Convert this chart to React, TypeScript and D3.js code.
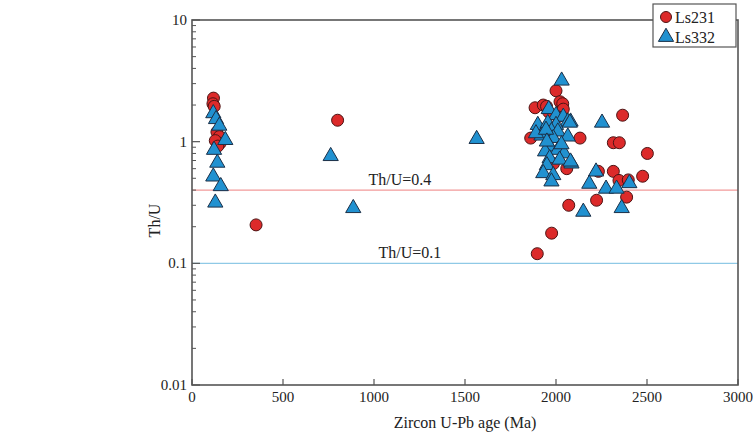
import React from 'react';
import * as d3 from 'd3';

// Ls231 zircons: [age Ma, Th/U]
const ls231: [number, number][] = [
  [118, 2.28], [115, 2.05], [122, 1.95], [137, 1.2], [150, 1.1], [154, 0.97], [128, 1.02], [142, 0.92],
  [352, 0.207], [800, 1.5],
  [1885, 1.9], [1930, 2.0], [1948, 1.95], [2000, 2.62], [2022, 2.13], [2037, 2.05], [2040, 1.85],
  [1960, 1.75], [1861, 1.07], [2132, 1.07], [2059, 0.6], [1986, 0.66], [1975, 1.3], [2010, 1.6], [1920, 1.25],
  [2366, 1.65], [2315, 0.98], [2348, 0.98], [2502, 0.8], [2315, 0.57], [2233, 0.57], [2346, 0.48],
  [2397, 0.485], [2476, 0.52], [2388, 0.35], [2223, 0.33], [2070, 0.3], [1976, 0.177], [1897, 0.12],
];

// Ls332 zircons: [age Ma, Th/U]
const ls332: [number, number][] = [
  [117, 1.71], [132, 1.53], [150, 1.35], [183, 1.03], [121, 0.855], [139, 0.67], [117, 0.516], [158, 0.43], [128, 0.315],
  [762, 0.76], [886, 0.284], [1564, 1.05],
  [2031, 3.17], [1960, 1.85], [2000, 1.65], [2040, 1.6], [2065, 1.46], [1900, 1.37], [1955, 1.42], [2000, 1.37],
  [1975, 1.22], [2010, 1.21], [2065, 1.1], [1920, 1.12], [1985, 1.07], [1965, 0.91], [2010, 0.855], [1940, 0.83],
  [2045, 0.8], [1965, 0.73], [2020, 0.71], [1950, 0.64], [2085, 0.66], [1930, 0.55], [1985, 0.53], [1975, 0.47],
  [1890, 1.17], [1945, 1.25], [2080, 1.46], [1950, 1.0], [2030, 0.95],
  [2253, 1.43], [2076, 1.43], [2080, 0.685], [2220, 0.567], [2183, 0.45], [2275, 0.41], [2333, 0.41],
  [2403, 0.455], [2150, 0.265], [2361, 0.284],
];

const xTicks = [0, 500, 1000, 1500, 2000, 2500, 3000];
const yTicks = [0.01, 0.1, 1, 10];
const yTickLabels = ['0.01', '0.1', '1', '10'];
const refLines = [
  { value: 0.4, label: 'Th/U=0.4', color: '#f29a9a', labelAge: 970 },
  { value: 0.1, label: 'Th/U=0.1', color: '#8fc9e6', labelAge: 1025 },
];

const W = 753;
const H = 434;
const margin = { top: 20, right: 15, bottom: 49, left: 192 };
const font = '"Liberation Serif", "Times New Roman", serif';

const App = () => {
  const x = d3.scaleLinear().domain([0, 3000]).range([margin.left, W - margin.right]);
  const y = d3.scaleLog().domain([0.01, 10]).range([H - margin.bottom, margin.top]);

  // minor ticks 2..9 in every decade
  const minor: number[] = [];
  for (let d = 0.01; d < 10; d *= 10) {
    for (let k = 2; k <= 9; k++) minor.push(+(d * k).toPrecision(3));
  }

  const tri = d3.symbol().type(d3.symbolTriangle).size(100)();

  const x0 = margin.left;
  const x1 = W - margin.right;
  const y0 = H - margin.bottom;
  const y1 = margin.top;

  return (
    <svg width={W} height={H} style={{ position: 'absolute', left: 0, top: 0, background: '#fff' }} fontFamily={font}>
      {/* reference lines */}
      {refLines.map(r => (
        <g key={r.label}>
          <line x1={x0} x2={x1} y1={y(r.value)} y2={y(r.value)} stroke={r.color} strokeWidth={1.2} />
          <text x={x(r.labelAge)} y={y(r.value) - 5} fontSize={16} fill="#222">{r.label}</text>
        </g>
      ))}

      {/* frame */}
      <rect x={x0} y={y1} width={x1 - x0} height={y0 - y1} fill="none" stroke="#555" strokeWidth={1.6} />

      {/* y ticks */}
      {yTicks.map((t, i) => (
        <g key={t}>
          <line x1={x0} x2={x0 + 8} y1={y(t)} y2={y(t)} stroke="#555" strokeWidth={1.2} />
          <text x={x0 - 5} y={y(t) + 5} textAnchor="end" fontSize={15} fill="#222">{yTickLabels[i]}</text>
        </g>
      ))}
      {minor.map(t => (
        <line key={t} x1={x0} x2={x0 + 4} y1={y(t)} y2={y(t)} stroke="#555" strokeWidth={1} />
      ))}

      {/* x ticks */}
      {xTicks.map(t => (
        <g key={t}>
          <line x1={x(t)} x2={x(t)} y1={y0} y2={y0 - 6} stroke="#555" strokeWidth={1.2} />
          <text x={x(t)} y={y0 + 17} textAnchor="middle" fontSize={15} fill="#222">{t}</text>
        </g>
      ))}

      {/* axis titles */}
      <text x={(x0 + x1) / 2} y={H - 6} textAnchor="middle" fontSize={16} fill="#222">Zircon U-Pb age (Ma)</text>
      <text transform={`translate(${x0 - 32},${(y0 + y1) / 2 + 18}) rotate(-90)`} textAnchor="middle" fontSize={16} fill="#222">Th/U</text>

      {/* points */}
      {ls231.map((d, i) => (
        <circle key={'a' + i} cx={x(d[0])} cy={y(d[1])} r={6} fill="#dc2a2a" stroke="#4d1414" strokeWidth={1} />
      ))}
      {ls332.map((d, i) => (
        <path key={'b' + i} d={tri!} transform={`translate(${x(d[0])},${y(d[1])})`} fill="#2191d0" stroke="#1b2f47" strokeWidth={1} />
      ))}

      {/* legend */}
      <g>
        <rect x={653} y={4} width={83} height={43} fill="#fff" stroke="#555" strokeWidth={1.2} />
        <circle cx={666} cy={17} r={5.5} fill="#dc2a2a" stroke="#4d1414" strokeWidth={1} />
        <text x={675} y={22.5} fontSize={16} fill="#222">Ls231</text>
        <path d={tri!} transform="translate(666,37)" fill="#2191d0" stroke="#1b2f47" strokeWidth={1} />
        <text x={675} y={42.5} fontSize={16} fill="#222">Ls332</text>
      </g>
    </svg>
  );
};

export default App;
